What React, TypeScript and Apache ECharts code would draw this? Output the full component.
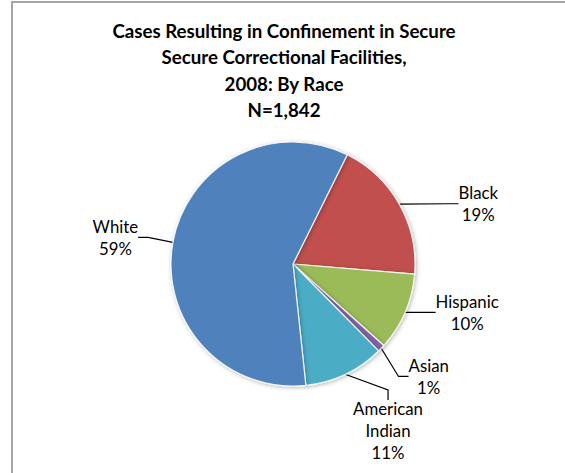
import React, { useEffect, useRef } from "react";
import * as echarts from "echarts";

const titleLines = [
  "Cases Resulting in Confinement in Secure",
  "Secure Correctional Facilities,",
  "2008: By Race",
  "N=1,842",
];
const categories = ["Black", "Hispanic", "Asian", "American Indian", "White"];
const values = [350, 190, 18, 197, 1087];
const colors = ["#C0504D", "#9BBB59", "#8064A2", "#4BACC6", "#4F81BD"];

const FONT = "Lato, 'Open Sans', sans-serif";

// label nudges (layout only), by data index
const labelNudge: [number, number][] = [
  [32, 4],
  [4, -8],
  [-6, 15],
  [-13, 17],
  [-6, -5],
];

export default function App() {
  const ref = useRef<HTMLDivElement>(null);
  useEffect(() => {
    if (!ref.current) return;
    const chart = echarts.init(ref.current, null, { renderer: "svg" });
    chart.setOption({
      animation: false,
      backgroundColor: "#ffffff",
      title: {
        text: titleLines.join("\n"),
        left: 284,
        textAlign: "center",
        top: 18,
        padding: 0,
        textStyle: {
          fontFamily: FONT,
          fontWeight: "bold",
          fontSize: 18.7,
          lineHeight: 26.3,
          color: "#000000",
        },
      },
      graphic: [
        {
          type: "polyline",
          shape: { points: [[12, 473], [12, 2], [565, 2]] },
          style: { stroke: "#a6a6a6", lineWidth: 2, fill: "none" },
          silent: true,
        },
      ],
      series: [
        {
          type: "pie",
          center: [293, 264],
          radius: 122,
          startAngle: 63.6,
          clockwise: true,
          data: categories.map((c, i) => ({
            name: c,
            value: values[i],
            itemStyle: { color: colors[i] },
          })),
          itemStyle: {
            borderColor: "rgba(255,255,255,0.85)",
            borderWidth: 1.2,
            shadowBlur: 4,
            shadowColor: "rgba(0,0,0,0.3)",
            shadowOffsetX: 1,
            shadowOffsetY: 1,
          },
          label: {
            show: true,
            position: "outside",
            fontFamily: FONT,
            fontSize: 16.8,
            color: "#000",
            formatter: (p: any) =>
              p.name
                .split(" ")
                .map((w: string) => `{n|${w}}`)
                .join("\n") + `\n{n|${Math.round(p.percent)}%}`,
            rich: {
              n: {
                fontFamily: FONT,
                fontSize: 16.8,
                lineHeight: 22,
                align: "center",
                color: "#000",
              },
            },
          },
          labelLine: {
            show: true,
            length: 14,
            length2: 10,
            lineStyle: { color: "#000", width: 1.2 },
          },
          labelLayout: (p: any) => {
            const n = labelNudge[p.dataIndex] || [0, 0];
            return {
              x: p.labelRect.x + n[0],
              y: p.labelRect.y + n[1],
              align: "left",
              verticalAlign: "top",
            };
          },
        },
      ],
    });
    return () => chart.dispose();
  }, []);
  return (
    <div
      ref={ref}
      style={{ position: "absolute", left: 0, top: 0, width: 565, height: 473 }}
    />
  );
}
